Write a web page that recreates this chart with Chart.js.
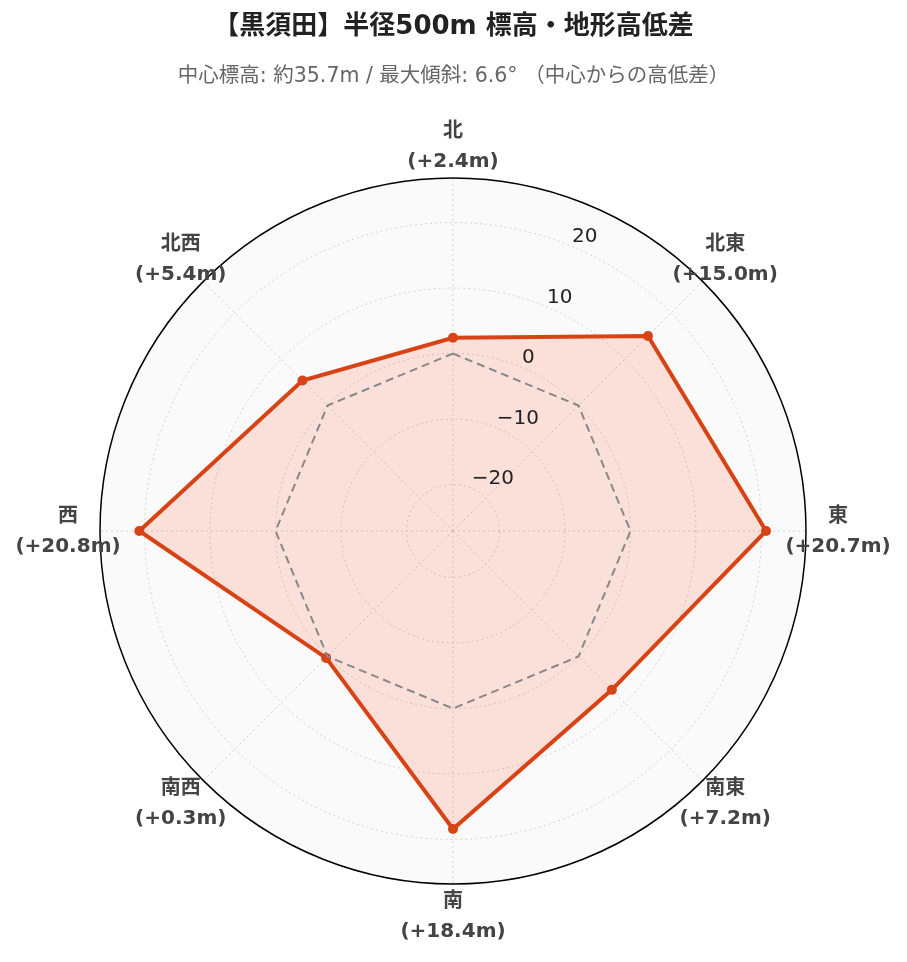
<!DOCTYPE html>
<html>
<head>
<meta charset="utf-8">
<script src="https://cdn.jsdelivr.net/npm/chart.js@4"></script>
<style>
    html, body { margin: 0; padding: 0; background: #fff; }
    #wrap { width: 907px; height: 962px; }
</style>
</head>
<body>
<div id="wrap"><canvas id="myChart"></canvas></div>
<script>
var directions = ["北", "北東", "東", "南東", "南", "南西", "西", "北西"]
var heightDiff = [2.4, 15.0, 20.7, 7.2, 18.4, 0.3, 20.8, 5.4]
var baseline = [0, 0, 0, 0, 0, 0, 0, 0]
var tickValues = [-20, -10, 0, 10, 20]
var rMin = -27.1
var rMax = 26.8

Chart.defaults.font.family = "'DejaVu Sans', 'Noto Sans CJK JP', sans-serif"

// labels round the circle, centred like the original
var dirLabels = {
    id: "dirLabels",
    afterDraw: function (chart) {
        var scale = chart.scales.r
        var ctx = chart.ctx
        ctx.save()
        ctx.font = "bold 20px 'DejaVu Sans', 'Noto Sans CJK JP', sans-serif"
        ctx.fillStyle = "#444"
        ctx.textAlign = "center"
        ctx.textBaseline = "middle"
        directions.forEach(function (name, i) {
            var p = scale.getPointPosition(i, scale.drawingArea + 32)
            var v = heightDiff[i]
            ctx.fillText(name, p.x, p.y - 14)
            ctx.fillText("(" + (v >= 0 ? "+" : "") + v.toFixed(1) + "m)", p.x, p.y + 16)
        })
        // radial tick labels along a tilted axis
        var ang = -Math.PI / 2 + Math.PI / 8
        ctx.font = "20px 'DejaVu Sans', sans-serif"
        ctx.fillStyle = "#222"
        ctx.textAlign = "left"
        tickValues.forEach(function (t) {
            var d = scale.getDistanceFromCenterForValue(t)
            var x = scale.xCenter + Math.cos(ang) * d
            var y = scale.yCenter + Math.sin(ang) * d
            ctx.fillText(String(t).replace("-", "\u2212"), x + 1, y - 9)
        })
        ctx.restore()
    }
}

var ctx = document.getElementById("myChart").getContext("2d")
new Chart(ctx, {
    type: "radar",
    data: {
        labels: directions,
        datasets: [{
            label: "高低差",
            data: heightDiff,
            borderColor: "#d84315",
            backgroundColor: "rgba(255, 87, 51, 0.17)",
            borderWidth: 4,
            fill: "start",
            pointRadius: 5,
            pointBackgroundColor: "#d84315",
            pointBorderColor: "#d84315",
            pointBorderWidth: 0,
            order: 1
        }, {
            label: "中心",
            data: baseline,
            borderColor: "#888",
            borderWidth: 2,
            borderDash: [8, 5],
            fill: false,
            pointRadius: 0,
            order: 0
        }]
    },
    options: {
        responsive: true,
        maintainAspectRatio: false,
        animation: false,
        layout: { padding: { left: 0, right: 0, top: 0, bottom: 77 } },
        plugins: {
            legend: { display: false },
            tooltip: { enabled: false },
            title: {
                display: true,
                text: "【黒須田】半径500m 標高・地形高低差",
                color: "#222",
                font: { size: 26, weight: "bold" },
                padding: { top: 12, bottom: 21 }
            },
            subtitle: {
                display: true,
                text: "中心標高: 約35.7m / 最大傾斜: 6.6° （中心からの高低差）",
                color: "#666",
                font: { size: 20.5, weight: "normal" },
                padding: { top: 0, bottom: 88.4 }
            }
        },
        scales: {
            r: {
                min: rMin,
                max: rMax,
                backgroundColor: "#fafafa",
                afterBuildTicks: function (scale) {
                    scale.ticks = tickValues.concat([rMax]).map(function (v) { return { value: v } })
                },
                ticks: { display: false },
                pointLabels: { display: false },
                grid: {
                    circular: true,
                    color: function (c) { return c.tick && c.tick.value === rMax ? "#000" : "#d2d2d2" },
                    lineWidth: function (c) { return c.tick && c.tick.value === rMax ? 1.5 : 1 }
                },
                border: {
                    dash: function (c) { return c.tick && c.tick.value === rMax ? [] : [2, 3] }
                },
                angleLines: {
                    color: "#d2d2d2",
                    lineWidth: 1,
                    borderDash: [2, 3]
                }
            }
        }
    },
    plugins: [dirLabels]
})
</script>
</body>
</html>
